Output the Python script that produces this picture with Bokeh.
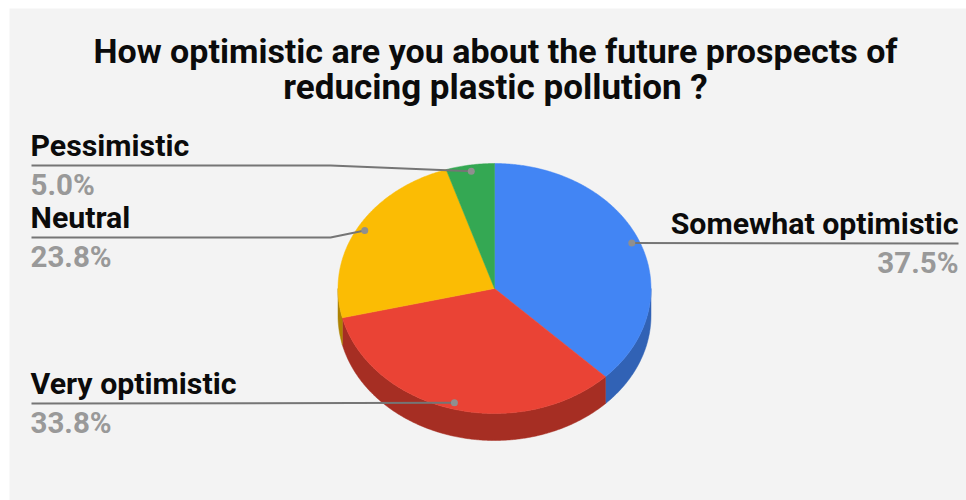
import math
from bokeh.core.properties import value
from bokeh.embed import file_html
from bokeh.models import Range1d
from bokeh.plotting import figure
from bokeh.resources import INLINE

# Survey results, clockwise from twelve o'clock
categories = ["Somewhat optimistic", "Very optimistic", "Neutral", "Pessimistic"]
percentages = [37.5, 33.8, 23.8, 5.0]
top_colors = ["#4285f4", "#ea4335", "#fbbc04", "#34a853"]
side_colors = ["#3162b5", "#a62e23", "#ad8203", "#247a3b"]
title_lines = ["How optimistic are you about the future prospects of",
               "reducing plastic pollution ?"]

W, H = 966, 500
CX, CY, RX, RY, DEPTH = 494, 288, 156.5, 125, 27
FONT = value("Roboto")


def rim(deg, drop=0, scale=1.0):
    a = math.radians(deg)
    return CX + RX * scale * math.sin(a), CY - RY * scale * math.cos(a) + drop


def arc(a0, a1, drop=0):
    n = max(2, int(abs(a1 - a0) * 2))
    pts = [rim(a0 + (a1 - a0) * i / n, drop) for i in range(n + 1)]
    return [q[0] for q in pts], [q[1] for q in pts]


p = figure(width=W, height=H, x_range=Range1d(0, W), y_range=Range1d(H, 0),
           output_backend="svg", toolbar_location=None, min_border=0,
           background_fill_color="white", border_fill_color="white",
           outline_line_color=None)
p.axis.visible = False
p.grid.visible = False

# Panel behind the chart
p.quad(left=[9], right=[W], top=[8], bottom=[H], fill_color="#f3f3f3", line_color=None)

# Slice angles
total = sum(percentages)
edges = [0.0]
for v in percentages:
    edges.append(edges[-1] + v / total * 360)

# Extruded wall, visible along the lower half of the rim only
for i, c in enumerate(side_colors):
    a0, a1 = max(edges[i], 90), min(edges[i + 1], 270)
    if a1 <= a0:
        continue
    xs, ys = arc(a0, a1)
    xb, yb = arc(a1, a0, DEPTH)
    p.patch(xs + xb, ys + yb, fill_color=c, line_color=c, line_width=0.5)

# Top face
for i, c in enumerate(top_colors):
    xs, ys = arc(edges[i], edges[i + 1])
    p.patch([CX] + xs, [CY] + ys, fill_color=c, line_color=c, line_width=0.5)

# Leader lines end on a dot at each slice's mid angle
dots = [rim((edges[i] + edges[i + 1]) / 2, scale=0.95) for i in range(len(percentages))]
leaders = [
    dict(xs=[958], y=243, tx=958, align="right"),
    dict(xs=[31], y=403, tx=30, align="left"),
    dict(xs=[31, 330], y=237, tx=30, align="left"),
    dict(xs=[31, 330], y=165, tx=30, align="left"),
]
for (dx, dy), cat, pct, L in zip(dots, categories, percentages, leaders):
    lx = list(L["xs"]) + [dx]
    ly = [L["y"]] * len(L["xs"]) + [dy]
    p.line(lx, ly, line_color="#757575", line_width=2)
    p.scatter([dx], [dy], size=7, fill_color="#8f8f8f", line_color=None)
    p.text([L["tx"]], [L["y"] - 20], text=[cat], text_font=FONT, text_font_size="30.3px",
           text_font_style="bold", text_color="#0b0b0b", text_align=L["align"],
           text_baseline="middle")
    p.text([L["tx"]], [L["y"] + 19], text=[f"{pct:.1f}%"], text_font=FONT, text_font_size="29.5px",
           text_font_style="bold", text_color="#999999", text_align=L["align"],
           text_baseline="middle")

# Two-line centred title
for line, y, size in zip(title_lines, [50, 87], ["34px", "35px"]):
    p.text([495], [y], text=[line], text_font=FONT, text_font_size=size,
           text_font_style="bold", text_color="#0b0b0b", text_align="center",
           text_baseline="middle")

open("out.html", "w").write(file_html(p, INLINE))
